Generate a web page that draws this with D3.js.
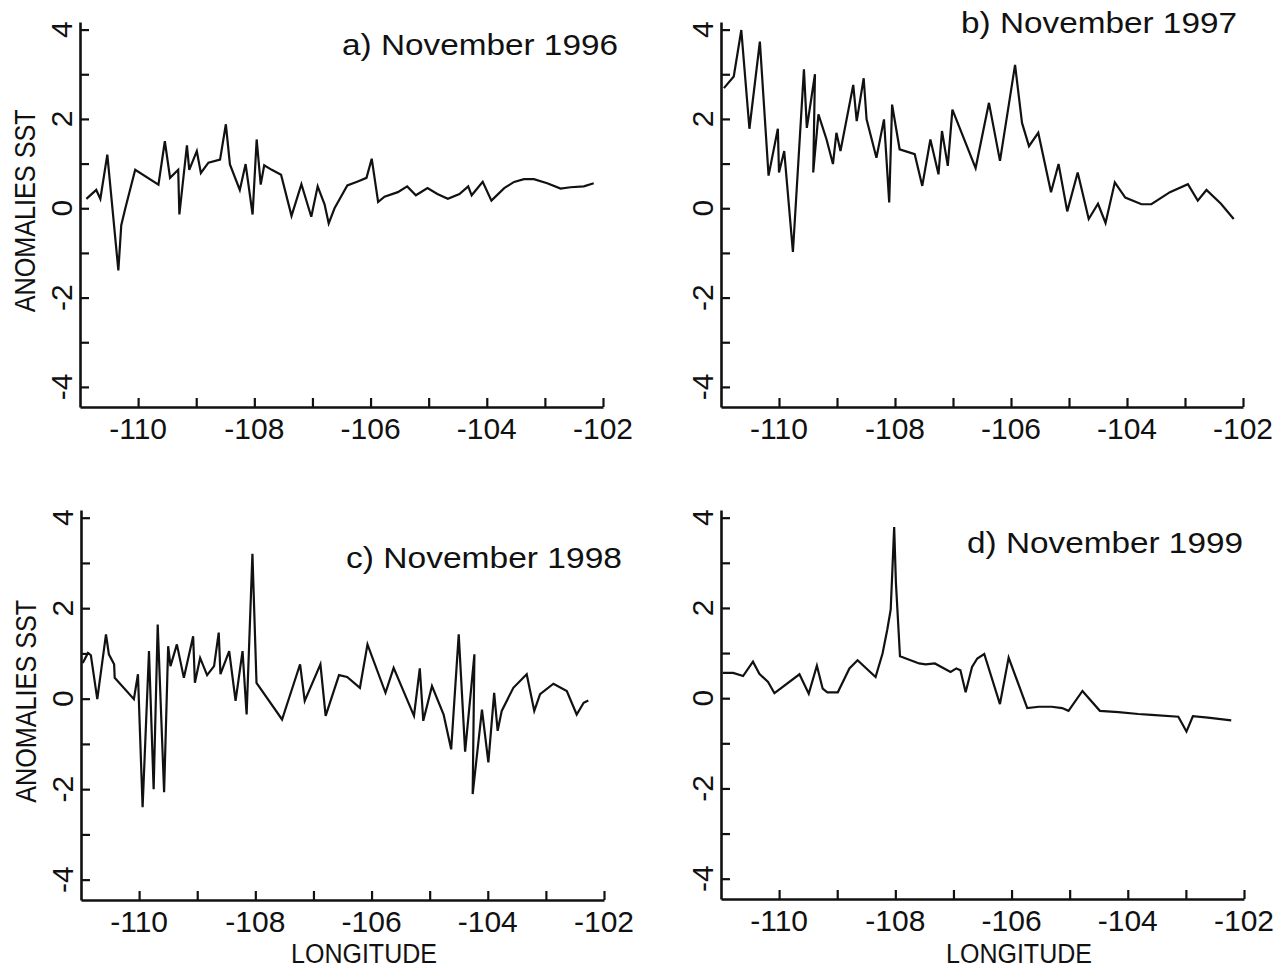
<!DOCTYPE html>
<html><head><meta charset="utf-8">
<script src="https://cdn.jsdelivr.net/npm/d3@7"></script>
<style>
body{margin:0;background:#fff}
svg{display:block}
text{font-family:"Liberation Sans",Arial,sans-serif;fill:#111}
</style>
</head><body>
<svg id="chart" width="1285" height="972"></svg>
<script>
// ---- data ----
const xTickLabels = [-110, -108, -106, -104, -102];
const xMinorTicks = [-109, -107, -105, -103];
const yTickLabels = [-4, -2, 0, 2, 4];
const yMinorTicks = [-3, -1, 1, 3];
const panelTitles = ["a) November 1996", "b) November 1997", "c) November 1998", "d) November 1999"];
const yAxisTitle = "ANOMALIES SST";
const xAxisTitle = "LONGITUDE";

const lonA = [-110.89,-110.72,-110.65,-110.53,-110.34,-110.29,-110.22,-110.05,-109.65,-109.54,-109.45,-109.31,-109.29,-109.16,-109.12,-108.99,-108.92,-108.79,-108.59,-108.49,-108.42,-108.25,-108.15,-108.03,-107.96,-107.89,-107.83,-107.70,-107.54,-107.36,-107.19,-107.02,-106.91,-106.79,-106.72,-106.62,-106.40,-106.22,-106.07,-105.98,-105.87,-105.76,-105.53,-105.37,-105.22,-105.02,-104.85,-104.67,-104.47,-104.32,-104.26,-104.07,-103.92,-103.70,-103.53,-103.36,-103.19,-102.96,-102.73,-102.56,-102.33,-102.16];
const sstA = [0.21,0.41,0.21,1.20,-1.39,-0.38,0.00,0.86,0.53,1.50,0.68,0.86,-0.14,1.41,0.86,1.28,0.79,1.02,1.09,1.88,0.98,0.41,0.99,-0.14,1.54,0.53,0.96,0.86,0.75,-0.17,0.54,-0.19,0.49,0.08,-0.34,0.00,0.51,0.60,0.68,1.11,0.14,0.26,0.36,0.49,0.29,0.45,0.32,0.21,0.32,0.49,0.29,0.59,0.17,0.45,0.59,0.65,0.65,0.56,0.44,0.47,0.49,0.56];

const lonB = [-110.95,-110.78,-110.65,-110.51,-110.33,-110.18,-110.02,-110.00,-109.91,-109.76,-109.57,-109.52,-109.38,-109.41,-109.32,-109.18,-109.07,-109.01,-108.94,-108.72,-108.66,-108.54,-108.49,-108.32,-108.19,-108.10,-108.05,-107.92,-107.66,-107.53,-107.39,-107.25,-107.19,-107.09,-107.01,-106.61,-106.38,-106.19,-105.93,-105.81,-105.69,-105.53,-105.31,-105.18,-105.03,-104.85,-104.66,-104.50,-104.37,-104.21,-104.03,-103.75,-103.58,-103.26,-102.95,-102.78,-102.63,-102.38,-102.16];
const sstB = [2.69,2.95,3.99,1.78,3.73,0.73,1.78,0.80,1.28,-0.98,3.11,1.80,3.00,0.80,2.10,1.54,0.99,1.69,1.28,2.76,1.95,2.91,1.99,1.13,1.99,0.13,2.32,1.32,1.21,0.50,1.54,0.76,1.73,0.95,2.21,0.90,2.36,1.06,3.21,1.91,1.39,1.69,0.36,0.99,-0.07,0.80,-0.24,0.10,-0.33,0.58,0.24,0.09,0.09,0.36,0.54,0.17,0.41,0.10,-0.24];

const lonC = [-110.97,-110.88,-110.83,-110.72,-110.57,-110.52,-110.43,-110.42,-110.09,-110.02,-109.94,-109.83,-109.75,-109.68,-109.57,-109.50,-109.46,-109.35,-109.23,-109.07,-109.04,-108.95,-108.83,-108.71,-108.63,-108.60,-108.45,-108.34,-108.22,-108.15,-108.05,-107.98,-107.54,-107.23,-107.15,-106.88,-106.79,-106.56,-106.42,-106.20,-106.07,-105.76,-105.62,-105.27,-105.17,-105.11,-104.96,-104.76,-104.63,-104.50,-104.39,-104.23,-104.26,-104.10,-103.99,-103.89,-103.83,-103.76,-103.56,-103.33,-103.20,-103.10,-102.87,-102.64,-102.47,-102.35,-102.27];
const sstC = [0.79,1.01,0.96,-0.01,1.42,0.98,0.76,0.46,-0.01,0.54,-2.40,1.05,-2.00,1.64,-2.07,1.16,0.72,1.20,0.46,1.38,0.35,0.90,0.52,0.72,1.46,0.54,1.05,-0.05,1.05,-0.35,3.20,0.35,-0.46,0.76,-0.05,0.76,-0.38,0.52,0.48,0.24,1.20,0.13,0.68,-0.38,0.67,-0.49,0.28,-0.35,-1.12,1.42,-1.17,0.98,-2.11,-0.24,-1.41,0.13,-0.71,-0.27,0.24,0.54,-0.27,0.10,0.33,0.17,-0.35,-0.09,-0.04];

const lonD = [-110.97,-110.79,-110.62,-110.45,-110.34,-110.19,-110.08,-109.65,-109.49,-109.35,-109.25,-109.17,-108.99,-108.79,-108.65,-108.34,-108.22,-108.14,-108.08,-108.05,-108.02,-107.99,-107.92,-107.59,-107.48,-107.32,-107.05,-106.95,-106.88,-106.79,-106.68,-106.59,-106.47,-106.20,-106.05,-105.73,-105.53,-105.31,-105.13,-105.02,-104.78,-104.48,-104.16,-103.82,-103.59,-103.13,-102.99,-102.88,-102.62,-102.22];
const sstD = [0.56,0.56,0.49,0.81,0.54,0.36,0.11,0.53,0.10,0.72,0.21,0.13,0.13,0.66,0.84,0.47,0.99,1.51,1.96,2.86,3.79,2.56,0.93,0.77,0.75,0.77,0.58,0.66,0.62,0.13,0.69,0.88,0.98,-0.13,0.90,-0.22,-0.19,-0.19,-0.22,-0.28,0.16,-0.28,-0.31,-0.35,-0.37,-0.41,-0.74,-0.40,-0.43,-0.49];

const xDomain = [-111, -102];
const yDomain = [-4.45, 4.17];

// ---- layout ----
const panels = [
  {title: panelTitles[0], lon: lonA, sst: sstA, left: 80,  right: 603,  top: 22,  bottom: 407, tx: 618,  ty: 55,  yTitle: true,  xTitle: null},
  {title: panelTitles[1], lon: lonB, sst: sstB, left: 721, right: 1243, top: 22,  bottom: 407, tx: 1237, ty: 33,  yTitle: false, xTitle: null},
  {title: panelTitles[2], lon: lonC, sst: sstC, left: 81,  right: 604,  top: 510, bottom: 900, tx: 622,  ty: 568, yTitle: true,  xTitle: 364},
  {title: panelTitles[3], lon: lonD, sst: sstD, left: 721, right: 1244, top: 510, bottom: 899, tx: 1243, ty: 553, yTitle: false, xTitle: 1019}
];

const svg = d3.select("#chart");
svg.append("rect").attr("width", 1285).attr("height", 972).attr("fill", "#fff");

panels.forEach(p => {
  const g = svg.append("g");
  const x = d3.scaleLinear().domain(xDomain).range([p.left, p.right]);
  const y = d3.scaleLinear().domain(yDomain).range([p.bottom, p.top]);

  // axes (inward ticks)
  const xAxis = d3.axisBottom(x)
    .tickValues(xTickLabels.concat(xMinorTicks))
    .tickSizeInner(-9).tickSizeOuter(0).tickFormat("");
  const yAxis = d3.axisLeft(y)
    .tickValues(yTickLabels.concat(yMinorTicks))
    .tickSizeInner(-9).tickSizeOuter(0).tickFormat("");

  const gx = g.append("g").attr("transform", `translate(0,${p.bottom})`).call(xAxis);
  const gy = g.append("g").attr("transform", `translate(${p.left},0)`).call(yAxis);
  [gx, gy].forEach(a => {
    a.select(".domain").attr("stroke", "#111").attr("stroke-width", 2.6);
    a.selectAll(".tick line").attr("stroke", "#111").attr("stroke-width", 2.2);
  });

  // x tick labels
  g.selectAll(".xlab").data(xTickLabels).enter().append("text")
    .attr("x", d => x(d)).attr("y", p.bottom + 32)
    .attr("text-anchor", "middle").attr("font-size", 30)
    .text(d => String(d));

  // y tick labels (rotated)
  g.selectAll(".ylab").data(yTickLabels).enter().append("text")
    .attr("transform", d => `translate(${p.left - 8},${y(d)}) rotate(-90)`)
    .attr("text-anchor", "middle").attr("font-size", 30)
    .text(d => String(d));

  // data line
  const pts = p.lon.map((v, i) => [v, p.sst[i]]);
  g.append("path").datum(pts)
    .attr("fill", "none").attr("stroke", "#111").attr("stroke-width", 2.2)
    .attr("stroke-linejoin", "miter").attr("stroke-miterlimit", 4)
    .attr("d", d3.line().x(d => x(d[0])).y(d => y(d[1])));

  // panel title
  g.append("text").attr("x", p.tx).attr("y", p.ty)
    .attr("text-anchor", "end").attr("font-size", 30)
    .attr("textLength", 276).attr("lengthAdjust", "spacingAndGlyphs")
    .text(p.title);

  if (p.yTitle) {
    g.append("text")
      .attr("transform", `translate(${p.left - 45},${(y(4.2) + y(-4.45)) / 2 - 3}) rotate(-90)`)
      .attr("text-anchor", "middle").attr("font-size", 29)
      .attr("textLength", 203).attr("lengthAdjust", "spacingAndGlyphs")
      .text(yAxisTitle);
  }
  if (p.xTitle !== null) {
    g.append("text")
      .attr("x", p.xTitle).attr("y", 963)
      .attr("text-anchor", "middle").attr("font-size", 27)
      .attr("textLength", 146).attr("lengthAdjust", "spacingAndGlyphs")
      .text(xAxisTitle);
  }
});
</script>
</body></html>
